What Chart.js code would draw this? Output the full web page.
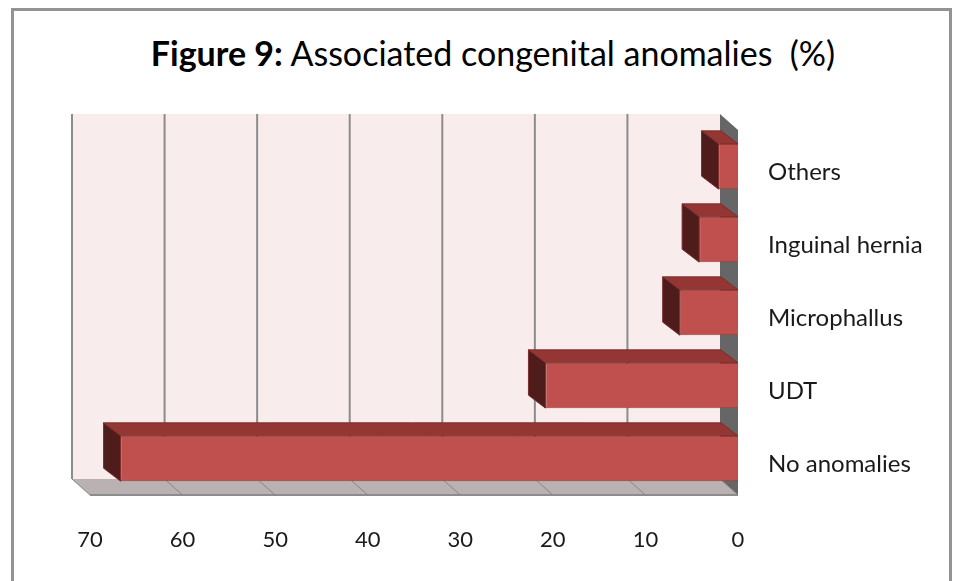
<!DOCTYPE html>
<html>
<head>
<meta charset="utf-8">
<script src="https://cdn.jsdelivr.net/npm/chart.js@4.4.1/dist/chart.umd.min.js"></script>
<style>
  body { margin: 0; background: #fff; }
  #wrap { position: relative; width: 956px; height: 581px; overflow: hidden; }
  #frame { position: absolute; left: 11px; top: 8px; width: 935px; height: 620px; border: 3px solid #939393; }
  #title { position: absolute; left: 0; top: 32px; width: 986px; text-align: center; font-family: Lato, sans-serif; font-size: 34px; color: #000; }
  canvas { position: absolute; left: 0; top: 0; }
</style>
</head>
<body>
<div id="wrap">
  <div id="frame"></div>
  <div id="title"><b>Figure 9:</b> Associated congenital anomalies&nbsp;&nbsp;(%)</div>
  <canvas id="myChart" width="956" height="581"></canvas>
</div>
<script>
	var categories = ['Others', 'Inguinal hernia', 'Microphallus', 'UDT', 'No anomalies'];
	var percentValues = [2.1, 4.2, 6.3, 20.8, 66.7];
	var xTicks = [0, 10, 20, 30, 40, 50, 60, 70];

	// depth offsets for the fake 3D look
	var wallDx = -18, wallDy = -16;
	var barDx = -17, barDy = -13;

	var box3d = {
		id: 'box3d',
		beforeDatasetsDraw: function(chart) {
			var ctx = chart.ctx;
			var xs = chart.scales.x;
			var area = chart.chartArea;
			var x0 = xs.getPixelForValue(0), x70 = xs.getPixelForValue(70);
			ctx.save();
			// back wall
			ctx.fillStyle = '#f9ecec';
			ctx.fillRect(x70 + wallDx, area.top + wallDy, x0 - x70, area.bottom - area.top);
			// floor
			ctx.fillStyle = '#bab2b2';
			ctx.beginPath();
			ctx.moveTo(x70 + wallDx, area.bottom + wallDy);
			ctx.lineTo(x0 + wallDx, area.bottom + wallDy);
			ctx.lineTo(x0, area.bottom);
			ctx.lineTo(x70, area.bottom);
			ctx.closePath();
			ctx.fill();
			ctx.strokeStyle = '#8c8c8c';
			ctx.lineWidth = 2;
			ctx.beginPath();
			ctx.moveTo(x70, area.bottom);
			ctx.lineTo(x0, area.bottom);
			ctx.stroke();
			// side wall
			ctx.fillStyle = '#666666';
			ctx.beginPath();
			ctx.moveTo(x0 + wallDx, area.top + wallDy);
			ctx.lineTo(x0, area.top);
			ctx.lineTo(x0, area.bottom);
			ctx.lineTo(x0 + wallDx, area.bottom + wallDy);
			ctx.closePath();
			ctx.fill();
			// grid lines on back wall + floor
			xs.ticks.forEach(function(t) {
				var px = xs.getPixelForValue(t.value);
				ctx.strokeStyle = '#8c8c8c';
				ctx.lineWidth = 2;
				if (t.value !== 0) {
					ctx.beginPath();
					ctx.moveTo(px + wallDx, area.top + wallDy);
					ctx.lineTo(px + wallDx, area.bottom + wallDy);
					ctx.stroke();
				}
				ctx.strokeStyle = '#8a8484';
				ctx.lineWidth = 1;
				ctx.beginPath();
				ctx.moveTo(px + wallDx, area.bottom + wallDy);
				ctx.lineTo(px, area.bottom);
				ctx.stroke();
			});
			ctx.restore();
		},
		afterDatasetsDraw: function(chart) {
			var ctx = chart.ctx;
			var meta = chart.getDatasetMeta(0);
			ctx.save();
			ctx.lineWidth = 1;
			meta.data.forEach(function(bar) {
				var left = Math.min(bar.x, bar.base), right = Math.max(bar.x, bar.base);
				var top = bar.y - bar.height / 2, bottom = bar.y + bar.height / 2;
				// top face
				ctx.fillStyle = '#943634';
				ctx.strokeStyle = '#7d2c2a';
				ctx.beginPath();
				ctx.moveTo(left, top);
				ctx.lineTo(right, top);
				ctx.lineTo(right + barDx, top + barDy);
				ctx.lineTo(left + barDx, top + barDy);
				ctx.closePath();
				ctx.fill();
				ctx.stroke();
				// left face
				ctx.fillStyle = '#4f1c1c';
				ctx.beginPath();
				ctx.moveTo(left, top);
				ctx.lineTo(left, bottom);
				ctx.lineTo(left + barDx, bottom + barDy);
				ctx.lineTo(left + barDx, top + barDy);
				ctx.closePath();
				ctx.fill();
				ctx.stroke();
			});
			ctx.restore();
		}
	};

	var ctx = document.getElementById('myChart').getContext('2d');
	var myChart = new Chart(ctx, {
		type: 'bar',
		data: {
			labels: categories,
			datasets: [{
				data: percentValues,
				backgroundColor: '#c0504d',
				borderColor: '#9e3f3c',
				borderWidth: 1,
				categoryPercentage: 1,
				barPercentage: 0.62
			}]
		},
		options: {
			indexAxis: 'y',
			responsive: false,
			animation: false,
			layout: { padding: { left: 90, top: 130, right: 0, bottom: 0 } },
			plugins: {
				legend: { display: false },
				title: { display: false },
				tooltip: { enabled: false }
			},
			scales: {
				x: {
					reverse: true,
					min: 0,
					max: 70,
					afterBuildTicks: function(scale) {
						scale.ticks = xTicks.map(function(v) { return { value: v }; });
					},
					grid: { display: false, drawTicks: false },
					border: { display: false },
					ticks: {
						color: '#1a1a1a',
						padding: 32,
						font: { family: 'Lato', size: 22 }
					},
					afterFit: function(scale) { scale.height = 86; }
				},
				y: {
					position: 'right',
					grid: { display: false, drawTicks: false },
					border: { display: false },
					ticks: {
						color: '#1a1a1a',
						padding: 30,
						labelOffset: 6,
						font: { family: 'Lato', size: 24 }
					},
					afterFit: function(scale) { scale.width = 218; }
				}
			}
		},
		plugins: [box3d]
	});
</script>
</body>
</html>
